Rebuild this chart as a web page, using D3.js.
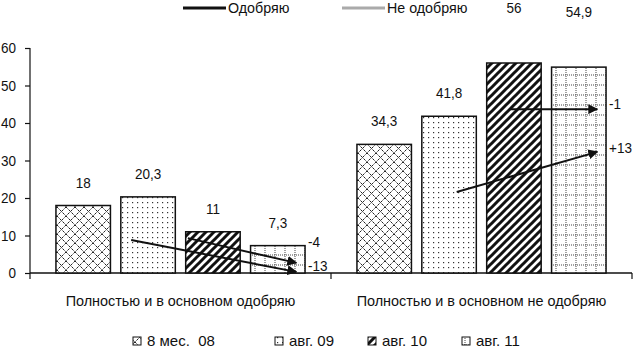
<!DOCTYPE html>
<html>
<head>
<meta charset="utf-8">
<script src="https://d3js.org/d3.v7.min.js"></script>
<style>
  body { margin: 0; background: #fff; }
  text { font-family: "Liberation Sans", Arial, sans-serif; fill: #111; }
</style>
</head>
<body>
<div id="chart"></div>
<script>
// data
const groups = ["Полностью и в основном одобряю", "Полностью и в основном не одобряю"];
const series = ["8 мес.  08", "авг. 09", "авг. 10", "авг. 11"];
const approve = [18, 20.3, 11, 7.3];
const disapprove = [34.3, 41.8, 56, 54.9];
const yTicks = [0, 10, 20, 30, 40, 50, 60];
const lineLegend = ["Одобряю", "Не одобряю"];
// change arrows: from (group, series, value) to (series, value)
const arrows = [
  {g: 0, s0: 1, v0: 8.8, s1: 3, v1: 0.3, label: "-13"},
  {g: 0, s0: 2, v0: 9.3, s1: 3, v1: 2.7, label: "-4"},
  {g: 1, s0: 2, v0: 43.7, s1: 3, v1: 43.7, label: "-1"},
  {g: 1, s0: 1, v0: 21.6, s1: 3, v1: 32.3, label: "+13"}
];

const width = 634, height = 350;
const margin = {top: 48, right: 2, bottom: 77, left: 30};

const svg = d3.select("#chart").append("svg")
  .attr("width", width).attr("height", height);

const defs = svg.append("defs");

// patterns
const p0 = defs.append("pattern").attr("id", "pat0").attr("patternUnits", "userSpaceOnUse")
  .attr("width", 9).attr("height", 9);
p0.append("rect").attr("width", 9).attr("height", 9).attr("fill", "#fff");
p0.append("path").attr("d", "M0,0L9,9M9,0L0,9").attr("stroke", "#222").attr("stroke-width", 1)
  .attr("stroke-dasharray", "1.5,0.6");

const p1 = defs.append("pattern").attr("id", "pat1").attr("patternUnits", "userSpaceOnUse")
  .attr("width", 5).attr("height", 5);
p1.append("rect").attr("width", 5).attr("height", 5).attr("fill", "#fff");
p1.append("rect").attr("x", 2).attr("y", 2).attr("width", 1.2).attr("height", 1.2).attr("fill", "#333");

const p2 = defs.append("pattern").attr("id", "pat2").attr("patternUnits", "userSpaceOnUse")
  .attr("width", 8).attr("height", 8);
p2.append("rect").attr("width", 8).attr("height", 8).attr("fill", "#fff");
p2.append("path").attr("d", "M-2,10L10,-2M-2,2L2,-2M6,10L10,6").attr("stroke", "#111").attr("stroke-width", 3);

const p3 = defs.append("pattern").attr("id", "pat3").attr("patternUnits", "userSpaceOnUse")
  .attr("width", 10).attr("height", 10);
p3.append("rect").attr("width", 10).attr("height", 10).attr("fill", "#fff");
p3.append("path").attr("d", "M5,0V10M0,5H10").attr("stroke", "#444").attr("stroke-width", 1)
  .attr("stroke-dasharray", "1,1");

defs.append("marker").attr("id", "head").attr("viewBox", "0 0 10 10")
  .attr("refX", 9).attr("refY", 5).attr("markerWidth", 5).attr("markerHeight", 5)
  .attr("orient", "auto")
  .append("path").attr("d", "M0,0L10,5L0,10z").attr("fill", "#111");

// condense a text node horizontally
function narrow(sel, k) {
  sel.each(function() {
    const w = this.getComputedTextLength();
    d3.select(this).attr("textLength", w * k).attr("lengthAdjust", "spacingAndGlyphs");
  });
}

const x0 = d3.scaleBand().domain(groups)
  .range([margin.left, width - margin.right]);
const x1 = d3.scaleBand().domain(series)
  .range([0, x0.bandwidth()]).paddingInner(0.16).paddingOuter(0.4);
const y = d3.scaleLinear().domain([0, 60])
  .range([height - margin.bottom, margin.top]);

// y axis
const yAxis = svg.append("g").attr("transform", `translate(${margin.left},0)`)
  .call(d3.axisLeft(y).tickValues(yTicks).tickSize(5).tickPadding(9));
yAxis.selectAll("text").style("font-size", "15px").call(narrow, 0.9);
yAxis.selectAll("line, path").attr("stroke", "#111").attr("stroke-width", 1.2);
yAxis.select(".domain").attr("d", `M0,${y(60)}V${y(0)}`);

// x axis
const xAxis = svg.append("g").attr("transform", `translate(0,${y(0)})`);
xAxis.append("line").attr("x1", margin.left).attr("x2", width - margin.right)
  .attr("stroke", "#111").attr("stroke-width", 1.5);
const xEdges = [margin.left].concat(groups.map(g => x0(g) + x0.bandwidth()));
xAxis.selectAll(".tk").data(xEdges).join("line")
  .attr("x1", d => d).attr("x2", d => d).attr("y1", 0).attr("y2", 6)
  .attr("stroke", "#111").attr("stroke-width", 1.2);
xAxis.selectAll(".cat").data(groups).join("text")
  .attr("x", d => x0(d) + x0.bandwidth() / 2).attr("y", 33)
  .attr("text-anchor", "middle").style("font-size", "15px").text(d => d)
  .call(narrow, 0.96);

// bars
const table = groups.map((g, i) => ({g, vals: i === 0 ? approve : disapprove}));
const gGroup = svg.selectAll(".grp").data(table).join("g")
  .attr("transform", d => `translate(${x0(d.g)},0)`);
gGroup.selectAll("rect").data(d => d.vals.map((v, i) => ({s: series[i], i, v}))).join("rect")
  .attr("x", d => x1(d.s)).attr("width", x1.bandwidth())
  .attr("y", d => y(d.v)).attr("height", d => y(0) - y(d.v))
  .attr("fill", d => `url(#pat${d.i})`).attr("stroke", "#111").attr("stroke-width", 1.5);
gGroup.selectAll(".val").data(d => d.vals.map((v, i) => ({s: series[i], v}))).join("text")
  .attr("x", d => x1(d.s) + x1.bandwidth() / 2)
  .attr("y", d => d.v > 50 ? y(d.v) - 50 : y(d.v) - 18)
  .attr("text-anchor", "middle").style("font-size", "15px")
  .text(d => String(d.v).replace(".", ","))
  .call(narrow, 0.9);

// arrows
const fr0 = {"-13": 0.19, "-4": 0.04, "-1": 0.42, "+13": 0.64};
const ax = (g, s, f) => x0(groups[g]) + x1(series[s]) + f * x1.bandwidth();
arrows.forEach(a => {
  const xa = ax(a.g, a.s0, fr0[a.label]), xb = ax(a.g, a.s1, 0.84);
  svg.append("line").attr("x1", xa).attr("y1", y(a.v0)).attr("x2", xb).attr("y2", y(a.v1))
    .attr("stroke", "#111").attr("stroke-width", 2).attr("marker-end", "url(#head)");
});
const lblAt = {"-13": 1.9, "-4": 8.2, "-1": 45.1, "+13": 33.3};
arrows.forEach(a => {
  svg.append("text").attr("x", ax(a.g, 3, 1) + 3).attr("y", y(lblAt[a.label]) + 5)
    .style("font-size", "15px").text(a.label).call(narrow, 0.9);
});

// top legend
const lg = svg.append("g");
const lx = [183, 342];
lineLegend.forEach((t, i) => {
  lg.append("line").attr("x1", lx[i]).attr("x2", lx[i] + 43).attr("y1", 8).attr("y2", 8)
    .attr("stroke", i === 0 ? "#111" : "#aaa").attr("stroke-width", 3);
  lg.append("text").attr("x", lx[i] + 45).attr("y", 13).style("font-size", "15px").text(t)
    .call(narrow, 0.95);
});

// bottom legend
const bx = [133, 275, 368, 462];
series.forEach((s, i) => {
  svg.append("rect").attr("x", bx[i]).attr("y", 337).attr("width", 8).attr("height", 8)
    .attr("fill", `url(#pat${i})`).attr("stroke", "#111").attr("stroke-width", 1);
  svg.append("text").attr("x", bx[i] + 14).attr("y", 346).style("font-size", "15px")
    .style("white-space", "pre").text(s);
});
</script>
</body>
</html>
